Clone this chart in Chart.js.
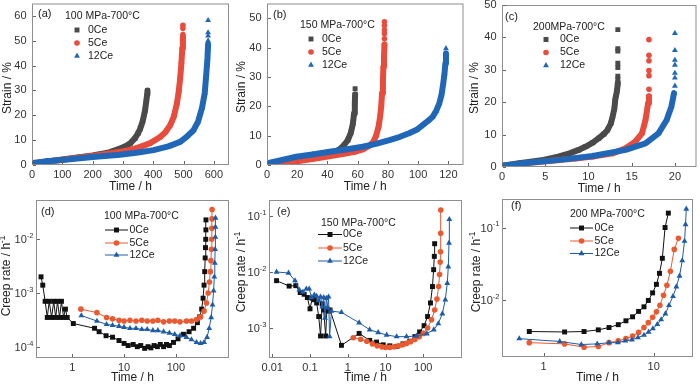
<!DOCTYPE html>
<html>
<head>
<meta charset="utf-8">
<script src="https://cdn.jsdelivr.net/npm/chart.js@4.4.1/dist/chart.umd.min.js"></script>
<style>
  html, body { margin: 0; padding: 0; background: #fff; }
  #fig { position: relative; width: 700px; height: 386px; overflow: hidden; }
  #fig canvas { position: absolute; }
</style>
</head>
<body>
<div id="fig">
  <canvas id="pa"></canvas><canvas id="pb"></canvas><canvas id="pc"></canvas>
  <canvas id="pd"></canvas><canvas id="pe"></canvas><canvas id="pf"></canvas>
</div>
<script>
// ─── Data: [time h, strain %] ────────────────────────────────────────────────
const SERIES = ['0Ce', '5Ce', '12Ce'];

// (a) 100 MPa-700°C strain curves
const a0Ce    = [[0,0.5],[25,1.0],[50,1.4],[100,2.2],[150,3.0],[200,3.8],[250,4.9],[290,6.6],[310,7.6],[324,8.7],[340,10.8],[350,12.8],[357,14.6],[365,17.5],[373,22],[377,25.5],[380,28.5],[381,30]];
const a0CeTop = [];
const a5Ce    = [[0,0.5],[25,1.0],[50,1.4],[100,2.1],[150,2.9],[200,3.6],[250,4.5],[290,5.3],[330,6.3],[357,7.3],[390,8.8],[423,11.3],[440,13.2],[456,16],[468,19.5],[478,24.7],[484,29.5],[489,35],[493,41],[496,47],[498,51.5]];
const a5CeTop = [[498,52.5],[498,55],[498,56.2]];
const a12Ce   = [[0,0.8],[25,1.1],[50,1.5],[100,2.0],[150,2.6],[200,3.2],[250,3.7],[290,4.1],[350,5.0],[401,6.0],[450,7.5],[489,9.3],[510,11.3],[533,14],[548,17.5],[561,23],[570,29],[575,36.5],[579,43],[581,48.5]];
const a12CeTop = [[581,50],[581,52],[581,53.3],[581,58.2]];

// (b) 150 MPa-700°C strain curves
const b0Ce    = [[0,0.4],[10,1.2],[20,2.0],[30,2.8],[40,3.7],[45,4.5],[48,5.3],[51,6.8],[53.5,8.5],[55.5,11],[56.8,14],[57.6,17.5],[58.1,21],[58.3,24]];
const b0CeTop = [[58.3,26]];
const b5Ce    = [[0,0.2],[10,0.7],[20,1.3],[30,2.0],[40,2.9],[50,3.7],[58,4.5],[63.4,5.3],[67.8,6.6],[70.5,8],[72.2,10],[73.8,13],[74.8,16.4],[75.6,20],[76.1,24.4],[76.7,29],[77,33.4],[77.4,37],[77.7,41]];
const b5CeTop = [[77.7,43],[77.7,44.7],[77.7,46],[77.7,47.5],[77.7,48.8]];
const b12Ce   = [[0,0.6],[10,1.7],[19.4,2.8],[30,3.6],[41.4,4.5],[52,5.3],[63.4,6.2],[72,7.2],[81,8.5],[88,9.6],[94,10.8],[99,12],[103,13.6],[106.5,15],[109.6,16.4],[112,18.5],[114,21],[115.5,24],[116.6,27.8],[117.4,31],[118,34.6],[118.4,38]];
const b12CeTop = [[118.4,39.7]];

// (c) 200 MPa-700°C strain curves
const c0Ce    = [[0,0.4],[2,1.2],[4.8,2.2],[6.5,3.2],[7.8,4.2],[8.8,5.2],[9.7,6.3],[10.5,7.5],[11.2,8.9],[11.8,10.2],[12.2,11.4],[12.6,13.5],[12.8,15.6],[13,18],[13.1,20.7],[13.3,23.5],[13.4,25.9]];
const c0CeTop = [[13.4,27],[13.4,28],[13.4,30.7],[13.4,32],[13.4,35.8],[13.4,36.5],[13.4,42.4]];
const c5Ce    = [[0,0.3],[3,1.2],[6,2.0],[8.5,2.6],[10.5,3.2],[12.8,4.2],[14.3,5.8],[15.4,7.8],[16.2,10.4],[16.6,14.5],[16.9,19.7],[17,21.8]];
const c5CeTop = [[17,24],[17,28.2],[17,29.8],[17,32.8],[17,34.5],[17,39.3]];
const c12Ce   = [[0,0.4],[3,1.3],[6.7,2.2],[10.5,3.4],[14.3,5.3],[16.6,7.3],[18.1,10.4],[19.05,14.5],[19.6,18.7],[19.9,22.8]];
const c12CeTop = [[20,25],[20,27.5],[20,29],[20,31.5],[20,33],[20,36],[20,41.3]];

// ─── Data: [time h, creep rate 1/h] ──────────────────────────────────────────

// (d) 100 MPa-700°C
const d0Ce  = [[0.25,2.0e-3],[0.27,1.4e-3],[0.30,7.0e-4],[0.33,3.5e-4],[0.36,7.0e-4],[0.40,3.5e-4],[0.44,7.0e-4],[0.48,3.5e-4],[0.52,7.0e-4],[0.57,3.5e-4],[0.62,7.0e-4],[0.68,3.5e-4],[0.74,5.0e-4],[0.80,3.5e-4],[1.05,2.7e-4],[2.7,2.2e-4],[3.3,1.9e-4],[4.5,1.6e-4],[6,1.5e-4],[8,1.3e-4],[10,1.15e-4],[12,1.05e-4],[15,1.1e-4],[18,1.0e-4],[21,1.05e-4],[25,9.3e-5],[29,1.0e-4],[33,9.5e-5],[38,1.05e-4],[44,1.0e-4],[50,1.1e-4],[58,1.0e-4],[66,1.1e-4],[75,1.05e-4],[90,1.2e-4],[110,1.4e-4],[140,1.7e-4],[180,1.9e-4],[220,2.2e-4],[260,2.8e-4],[290,3.6e-4],[315,5e-4],[335,8e-4],[350,1.4e-3],[360,2.5e-3],[368,4.5e-3],[373,7e-3],[377,1.0e-2],[380,1.5e-2],[381,2.3e-2]];
const d5Ce  = [[1.47,5.0e-4],[3.0,4.3e-4],[4.6,3.5e-4],[6,3.3e-4],[8,3.1e-4],[10,3.0e-4],[13,3.1e-4],[17,3.0e-4],[22,3.1e-4],[28,3.0e-4],[36,3.0e-4],[45,3.1e-4],[58,2.9e-4],[75,3.0e-4],[95,3.0e-4],[120,2.9e-4],[160,3.0e-4],[200,3.0e-4],[250,3.2e-4],[300,3.6e-4],[350,4.6e-4],[390,6.5e-4],[420,1.0e-3],[445,1.6e-3],[462,2.5e-3],[475,4e-3],[485,6.5e-3],[491,1.0e-2],[495,1.6e-2],[498,2.4e-2],[500,3.6e-2]];
const d12Ce = [[1.5,3.8e-4],[3.0,3.0e-4],[4.6,2.6e-4],[6,2.5e-4],[8,2.4e-4],[10,2.3e-4],[13,2.2e-4],[17,2.2e-4],[22,2.1e-4],[28,2.1e-4],[36,2.0e-4],[45,2.0e-4],[58,1.9e-4],[75,1.8e-4],[95,1.7e-4],[120,1.6e-4],[160,1.5e-4],[200,1.35e-4],[250,1.2e-4],[300,1.15e-4],[350,1.2e-4],[400,1.5e-4],[440,2.2e-4],[480,3.5e-4],[510,6e-4],[535,1.1e-3],[552,2.0e-3],[564,3.6e-3],[572,6.5e-3],[577,1.1e-2],[580,1.7e-2],[582,2.5e-2]];

// (e) 150 MPa-700°C
const e0Ce  = [[0.013,7.0e-3],[0.028,5.6e-3],[0.042,5.7e-3],[0.055,4.3e-3],[0.07,4.0e-3],[0.085,3.5e-3],[0.10,2.2e-3],[0.115,3.4e-3],[0.13,3.2e-3],[0.15,2.8e-3],[0.17,1.6e-3],[0.19,7.2e-4],[0.21,2.7e-3],[0.23,2.1e-3],[0.26,7.2e-4],[0.28,2.2e-3],[0.31,2.0e-3],[0.34,2.1e-3],[0.68,4.9e-4],[2.0,8.0e-4],[3.8,6.0e-4],[5.8,5.6e-4],[8.7,5.0e-4],[13,4.8e-4],[20,4.7e-4],[29,5.2e-4],[44,5.8e-4],[60,7e-4],[80,8.5e-4],[105,1.1e-3],[130,1.6e-3],[155,2.8e-3],[175,5.5e-3],[188,1.1e-2],[196,1.9e-2],[200,3.2e-2]];
const e5Ce  = [[1.4,6.7e-4],[2.2,6.3e-4],[3.2,5.8e-4],[4.5,5.2e-4],[6,4.8e-4],[8,4.6e-4],[10,4.5e-4],[13,4.5e-4],[17,4.6e-4],[22,4.8e-4],[28,5.0e-4],[36,5.3e-4],[46,5.7e-4],[60,6.2e-4],[78,7.0e-4],[100,8.0e-4],[130,1.0e-3],[165,1.4e-3],[200,2.1e-3],[230,3.3e-3],[255,5.5e-3],[270,9e-3],[280,1.5e-2],[286,2.3e-2],[289,4.9e-2],[291,0.128]];
const e12Ce = [[0.013,1.0e-2],[0.027,9.6e-3],[0.04,7.0e-3],[0.052,4.8e-3],[0.065,4.4e-3],[0.08,5.0e-3],[0.095,5.0e-3],[0.11,3.5e-3],[0.13,3.9e-3],[0.15,3.7e-3],[0.17,3.1e-3],[0.19,3.6e-3],[0.21,2.4e-3],[0.23,3.5e-3],[0.25,1.5e-3],[0.27,3.4e-3],[0.29,2.3e-3],[0.31,3.6e-3],[0.33,7.0e-4],[0.37,2.0e-3],[0.68,1.9e-3],[2.0,1.24e-3],[3.8,9.3e-4],[6.4,8.3e-4],[10.7,7.5e-4],[19.7,7.0e-4],[36,7.0e-4],[66,7.2e-4],[124,7.9e-4],[190,9.3e-4],[250,1.2e-3],[320,1.8e-3],[383,3.2e-3],[432,6.3e-3],[460,1.24e-2],[480,3.3e-2],[490,8.7e-2]];

// (f) 200 MPa-700°C
const f0Ce  = [[0.74,3.7e-3],[1.55,3.65e-3],[2.33,3.7e-3],[3.14,3.9e-3],[3.93,4.2e-3],[4.77,4.6e-3],[5.6,5.2e-3],[6.44,5.9e-3],[7.3,7.0e-3],[8.17,8.1e-3],[8.95,9.9e-3],[9.79,1.26e-2],[10.6,1.65e-2],[11.3,2.34e-2],[12.0,3.77e-2],[12.7,0.10],[13.6,0.158]];
const f5Ce  = [[0.74,2.6e-3],[1.55,2.5e-3],[2.33,2.25e-3],[3.14,2.3e-3],[3.93,2.6e-3],[4.77,2.75e-3],[5.6,2.95e-3],[6.44,3.2e-3],[7.3,3.6e-3],[8.17,4.2e-3],[8.95,4.9e-3],[9.8,5.8e-3],[10.6,6.9e-3],[11.4,8.5e-3],[12.3,1.17e-2],[13.2,1.6e-2],[14.2,2.5e-2],[15.4,5.0e-2],[16.8,7.1e-2]];
const f12Ce = [[0.6,2.95e-3],[1.4,2.7e-3],[2.2,2.45e-3],[3.07,2.5e-3],[3.93,2.6e-3],[4.73,2.6e-3],[5.52,2.75e-3],[6.35,2.85e-3],[7.2,3.05e-3],[8.17,3.3e-3],[9.0,3.65e-3],[9.85,4.05e-3],[10.8,4.65e-3],[11.7,5.4e-3],[12.8,6.5e-3],[13.8,8.5e-3],[15.0,1.13e-2],[16.1,1.53e-2],[17.2,2.15e-2],[18.2,3.5e-2],[19.1,6.5e-2],[19.5,0.11],[19.8,0.18]];

// ─── Tick values ─────────────────────────────────────────────────────────────
const dTicksX = [1, 10, 100];       const dTicksY = [1e-4, 1e-3, 1e-2];
const eTicksX = [0.01, 0.1, 1, 10, 100]; const eTicksY = [1e-3, 1e-2, 1e-1];
const fTicksX = [1, 10];            const fTicksY = [1e-2, 1e-1];

// ─── Theme ───────────────────────────────────────────────────────────────────
const FONT  = "'Liberation Sans', Arial, Helvetica, sans-serif";
const FRAME = '#8e8e8e';
const TEXT  = '#222';
const TICK_TEXT = '#333';

const STRAIN_STYLE = {
  '0Ce':  { color: '#4a4a4a', shape: 'rect' },
  '5Ce':  { color: '#e84c3d', shape: 'circle' },
  '12Ce': { color: '#2067b8', shape: 'triangle' },
};
const RATE_STYLE = {
  '0Ce':  { color: '#111111', shape: 'rect' },
  '5Ce':  { color: '#ea5a30', shape: 'circle' },
  '12Ce': { color: '#1f5ca8', shape: 'triangle' },
};
const SIZE = { rect: 3.5, circle: 2.8, triangle: 3.4 };

Chart.defaults.font.family = FONT;

const pts = arr => arr.map(([x, y]) => ({ x, y }));

// blue first so that it is painted on top (dataset 0 draws last)
function strainSets(band, top) {
  const out = [];
  ['12Ce', '5Ce', '0Ce'].forEach(name => {
    const st = STRAIN_STYLE[name];
    const common = {
      backgroundColor: st.color, borderColor: st.color, pointStyle: st.shape,
      pointRadius: SIZE[st.shape], pointBorderWidth: 0, pointHoverRadius: 0,
    };
    out.push({ ...common, data: pts(band[name]), showLine: true, borderWidth: 6,
               borderJoinStyle: 'round', borderCapStyle: 'round', tension: 0 });
    out.push({ ...common, data: pts(top[name]), showLine: false });
  });
  return out;
}

function rateSets(src) {
  return ['12Ce', '5Ce', '0Ce'].map(name => {
    const st = RATE_STYLE[name];
    return {
      data: pts(src[name]), showLine: true, borderWidth: 1, tension: 0,
      backgroundColor: st.color, borderColor: st.color, pointStyle: st.shape,
      pointRadius: SIZE[st.shape], pointBorderWidth: 0, pointHoverRadius: 0,
    };
  });
}

// ─── Drawing helpers ─────────────────────────────────────────────────────────

function marker(ctx, shape, x, y, r) {
  ctx.beginPath();
  if (shape === 'rect') {
    const s = r * Math.SQRT1_2;
    ctx.rect(x - s, y - s, 2 * s, 2 * s);
  } else if (shape === 'circle') {
    ctx.arc(x, y, r, 0, Math.PI * 2);
  } else {
    for (let i = 0; i < 3; i++) {
      const ang = i * 2 * Math.PI / 3;
      const px = x + Math.sin(ang) * r, py = y - Math.cos(ang) * r;
      i ? ctx.lineTo(px, py) : ctx.moveTo(px, py);
    }
    ctx.closePath();
  }
  ctx.fill();
}

// parts: [[text, isSuperscript], ...]
function richText(ctx, parts, x, y, align, size) {
  const fontFor = sup => `${sup ? size * 0.68 : size}px ${FONT}`;
  let w = 0;
  parts.forEach(([t, sup]) => { ctx.font = fontFor(sup); w += ctx.measureText(t).width; });
  let sx = align === 'right' ? x - w : align === 'center' ? x - w / 2 : x;
  ctx.textAlign = 'left';
  ctx.textBaseline = 'middle';
  parts.forEach(([t, sup]) => {
    ctx.font = fontFor(sup);
    ctx.fillText(t, sx, sup ? y - size * 0.38 : y);
    sx += ctx.measureText(t).width;
  });
}

function decoPlugin(p) {
  return {
    id: 'deco',
    afterDraw(chart) {
      const ctx = chart.ctx, a = chart.chartArea;
      const ox = p.box[0], oy = p.box[1];
      const xs = chart.scales.x, ys = chart.scales.y;
      ctx.save();

      // frame
      ctx.strokeStyle = FRAME; ctx.lineWidth = 1;
      ctx.strokeRect(a.left + 0.5, a.top + 0.5, a.right - a.left - 1, a.bottom - a.top - 1);

      // inward tick marks
      ctx.strokeStyle = '#666';
      ctx.beginPath();
      xs.ticks.forEach(t => {
        const x = Math.round(xs.getPixelForValue(t.value)) + 0.5;
        ctx.moveTo(x, a.bottom - 1); ctx.lineTo(x, a.bottom - 4);
      });
      ys.ticks.forEach(t => {
        const y = Math.round(ys.getPixelForValue(t.value)) + 0.5;
        ctx.moveTo(a.left + 1, y); ctx.lineTo(a.left + 4, y);
      });
      ctx.stroke();

      // log y labels: 10^n
      if (p.logY) {
        ctx.fillStyle = TICK_TEXT;
        ys.ticks.forEach(t => {
          const y = ys.getPixelForValue(t.value);
          const e = Math.round(Math.log10(t.value));
          richText(ctx, [['10', false], [String(e), true]], a.left - 2.5, y + 1, 'right', 11);
        });
      }

      ctx.fillStyle = TEXT;
      // panel letter and condition
      richText(ctx, [[p.letter[0], false]], p.letter[1] - ox, p.letter[2] - oy, 'left', 11);
      richText(ctx, [[p.title[0], false]], p.title[1] - ox, p.title[2] - oy, 'left', 10.5);

      // legend
      const lg = p.legend, styles = p.logY ? RATE_STYLE : STRAIN_STYLE;
      SERIES.forEach((name, i) => {
        const st = styles[name], y = lg.ys[i] - oy;
        ctx.fillStyle = st.color; ctx.strokeStyle = st.color;
        if (lg.x1 !== undefined) {
          ctx.lineWidth = 1;
          ctx.beginPath(); ctx.moveTo(lg.x1 - ox, y); ctx.lineTo(lg.x2 - ox, y); ctx.stroke();
        }
        marker(ctx, st.shape, lg.mx - ox, y, SIZE[st.shape]);
        ctx.fillStyle = TEXT;
        richText(ctx, [[name, false]], lg.tx - ox, y, 'left', 10.5);
      });

      // axis titles
      ctx.fillStyle = TEXT;
      richText(ctx, [['Time / h', false]], (a.left + a.right) / 2, p.xTitleY - oy, 'center', 12);
      ctx.translate(p.yTitle[0] - ox, p.yTitle[1] - oy);
      ctx.rotate(-Math.PI / 2);
      richText(ctx, p.yTitleParts, 0, 0, 'center', 12);
      ctx.restore();
    },
  };
}

function linearAxis(min, max, step) {
  return {
    type: 'linear', min, max,
    ticks: { stepSize: step, includeBounds: false, autoSkip: false, maxRotation: 0,
             font: { size: 11 }, color: TICK_TEXT },
  };
}

function logAxis(min, max, tickVals, showLabels) {
  return {
    type: 'logarithmic', min, max,
    afterBuildTicks: s => { s.ticks = tickVals.map(v => ({ value: v })); },
    ticks: { display: showLabels, autoSkip: false, maxRotation: 0,
             font: { size: 11 }, color: TICK_TEXT, callback: v => String(v) },
  };
}

// ─── Panels ──────────────────────────────────────────────────────────────────
const STRAIN_TITLE = [['Strain / %', false]];
const RATE_TITLE   = [['Creep rate / h', false], ['-1', true]];

const PANELS = [
  { id: 'pa', box: [0, 0, 234, 195], area: [32, 3, 229, 165],
    x: linearAxis(0, 650, 100), y: linearAxis(0, 65, 10),
    datasets: strainSets({ '0Ce': a0Ce, '5Ce': a5Ce, '12Ce': a12Ce },
                         { '0Ce': a0CeTop, '5Ce': a5CeTop, '12Ce': a12CeTop }),
    letter: ['(a)', 38, 14], title: ['100 MPa-700°C', 65, 16],
    legend: { mx: 77, tx: 88, ys: [30, 43, 56] },
    xTitleY: 187, yTitle: [8, 88], yTitleParts: STRAIN_TITLE },
  { id: 'pb', box: [234, 0, 233, 195], area: [267, 3, 464, 165],
    x: linearAxis(0, 130, 20), y: linearAxis(0, 55, 10),
    datasets: strainSets({ '0Ce': b0Ce, '5Ce': b5Ce, '12Ce': b12Ce },
                         { '0Ce': b0CeTop, '5Ce': b5CeTop, '12Ce': b12CeTop }),
    letter: ['(b)', 273, 15], title: ['150 MPa-700°C', 300, 25],
    legend: { mx: 311, tx: 322, ys: [39, 52, 65] },
    xTitleY: 187, yTitle: [241.5, 87], yTitleParts: STRAIN_TITLE },
  { id: 'pc', box: [467, 0, 233, 195], area: [502, 5, 698, 167],
    x: linearAxis(0, 22.5, 5), y: linearAxis(0, 50, 10),
    datasets: strainSets({ '0Ce': c0Ce, '5Ce': c5Ce, '12Ce': c12Ce },
                         { '0Ce': c0CeTop, '5Ce': c5CeTop, '12Ce': c12CeTop }),
    letter: ['(c)', 505, 17], title: ['200MPa-700°C', 533, 27],
    legend: { mx: 546, tx: 560, ys: [39.5, 52.5, 65.5] },
    xTitleY: 189, yTitle: [475, 88], yTitleParts: STRAIN_TITLE },
  { id: 'pd', box: [0, 192, 234, 194], area: [36, 200, 229, 358], logY: true,
    x: logAxis(0.2, 1060, dTicksX, true), y: logAxis(6.15e-5, 0.054, dTicksY, false),
    datasets: rateSets({ '0Ce': d0Ce, '5Ce': d5Ce, '12Ce': d12Ce }),
    letter: ['(d)', 41, 212], title: ['100 MPa-700°C', 104, 216],
    legend: { x1: 105, x2: 128, mx: 116.5, tx: 129.5, ys: [230, 243, 255] },
    xTitleY: 378, yTitle: [7, 276], yTitleParts: RATE_TITLE },
  { id: 'pe', box: [234, 192, 233, 194], area: [269, 200, 462, 358], logY: true,
    x: logAxis(0.0082, 1060, eTicksX, true), y: logAxis(2.91e-4, 0.193, eTicksY, false),
    datasets: rateSets({ '0Ce': e0Ce, '5Ce': e5Ce, '12Ce': e12Ce }),
    letter: ['(e)', 277, 212], title: ['150 MPa-700°C', 321, 223],
    legend: { x1: 318, x2: 342, mx: 330, tx: 343, ys: [234.5, 248, 261] },
    xTitleY: 378, yTitle: [242, 272], yTitleParts: RATE_TITLE },
  { id: 'pf', box: [467, 192, 233, 194], area: [502, 199, 693, 357], logY: true,
    x: logAxis(0.418, 22.8, fTicksX, true), y: logAxis(1.65e-3, 0.247, fTicksY, false),
    datasets: rateSets({ '0Ce': f0Ce, '5Ce': f5Ce, '12Ce': f12Ce }),
    letter: ['(f)', 511, 206], title: ['200 MPa-700°C', 570, 214],
    legend: { x1: 570, x2: 593, mx: 581.5, tx: 594.5, ys: [228, 241, 253.5] },
    xTitleY: 378, yTitle: [477, 272], yTitleParts: RATE_TITLE },
];

function buildPanel(p) {
  const [cx, cy, cw, ch] = p.box;
  const [L, T, R, B] = p.area;
  const cv = document.getElementById(p.id);
  cv.width = cw; cv.height = ch;
  cv.style.left = cx + 'px'; cv.style.top = cy + 'px';
  cv.style.width = cw + 'px'; cv.style.height = ch + 'px';

  const common = { grid: { display: false, drawTicks: false }, border: { display: false } };
  const x = { ...p.x, ...common, ticks: { ...p.x.ticks, padding: 3 },
    afterFit: s => { s.height = cy + ch - B; s.paddingLeft = 0; s.paddingRight = 0; } };
  const y = { ...p.y, ...common, ticks: { ...p.y.ticks, padding: 5.5 },
    afterFit: s => { s.width = L - cx; s.paddingTop = 0; s.paddingBottom = 0; } };

  return new Chart(cv, {
    type: 'scatter',
    data: { datasets: p.datasets },
    options: {
      responsive: false, animation: false, devicePixelRatio: 1,
      layout: { padding: { left: 0, top: T - cy, right: cx + cw - R, bottom: 0 } },
      plugins: { legend: { display: false }, tooltip: { enabled: false } },
      scales: { x, y },
    },
    plugins: [decoPlugin(p)],
  });
}

PANELS.forEach(buildPanel);
</script>
</body>
</html>
